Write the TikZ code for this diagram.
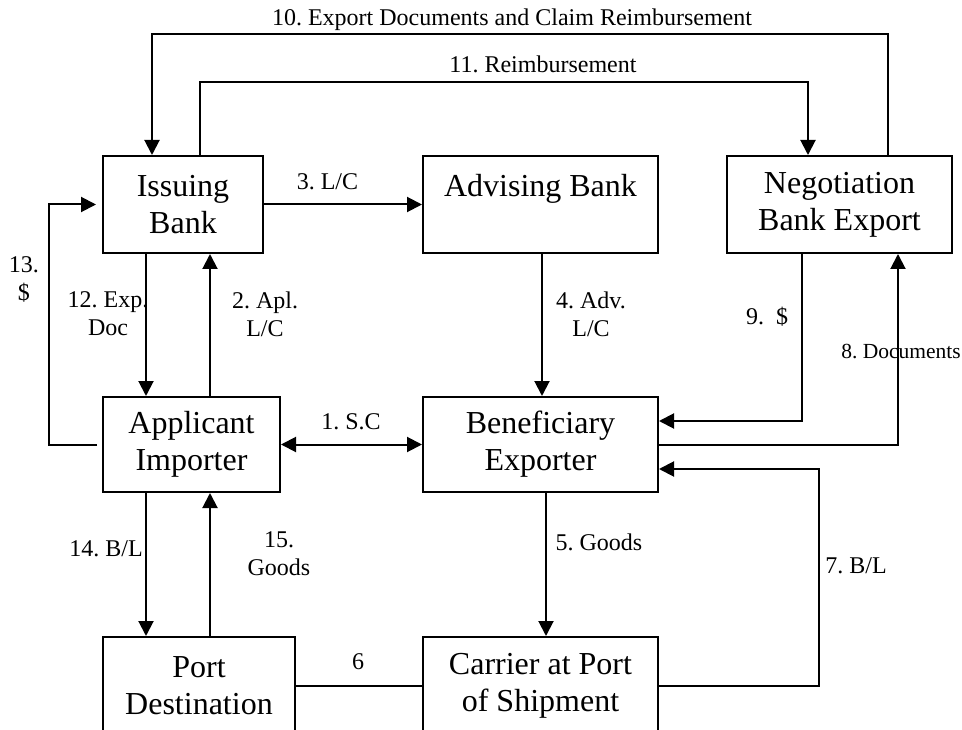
\documentclass[tikz,border=0pt]{standalone}
\usepackage{fontspec}
\setmainfont{Liberation Serif}
\usepackage{tikz}
\usetikzlibrary{arrows.meta}
\frenchspacing

\newcommand\boxfont{\fontsize{32}{37}\selectfont}
\newcommand\lblfont{\fontsize{24}{28}\selectfont}
\newcommand\docfont{\fontsize{21.5}{25}\selectfont}

\tikzset{
  party/.style={draw,line width=2pt,align=center,inner sep=0pt,font=\boxfont},
  flow/.style={font=\lblfont,align=center,inner sep=0pt}
}

\begin{document}
\begin{tikzpicture}[x=1pt,y=-1pt,line width=2pt,>={Triangle[length=15pt,width=15pt]}]
 \useasboundingbox (0,0) rectangle (962,730);
 \clip (0,0) rectangle (962,730);

 % Banks
 \node[party,minimum width=160pt,minimum height=97pt] (issuing) at (183,204.5) {Issuing\\Bank};
 \node[party,minimum width=235pt,minimum height=97pt] (advising) at (540.5,204.5) {Advising Bank\\\phantom{Bank}};
 \node[party,minimum width=225pt,minimum height=97pt] (negotiation) at (839.5,204.5) {Negotiation\\Bank Export};

 % Parties
 \node[party,minimum width=177pt,minimum height=95pt] (applicant) at (191.5,444.5) {Applicant\\Importer};
 \node[party,minimum width=235pt,minimum height=95pt] (beneficiary) at (540.5,444.5) {Beneficiary\\Exporter};

 % Ports
 \node[party,minimum width=192pt,minimum height=97pt] (port) at (199,685.5) {Port\\Destination};
 \node[party,minimum width=235pt,minimum height=97pt] (carrier) at (540.5,685.5) {Carrier at Port\\of Shipment};

 % Contract and credit
 \draw[<->] (applicant) -- (beneficiary);
 \draw[->] ([xshift=18.5pt]applicant.north) -- ([xshift=27pt]issuing.south);
 \draw[->] (issuing) -- (advising);
 \draw[->] ([xshift=1.5pt]advising.south) -- ([xshift=1.5pt]beneficiary.north);

 % Shipment
 \draw[->] ([xshift=5.5pt]beneficiary.south) -- ([xshift=5.5pt]carrier.north);
 \draw (port.east) -- (carrier.west);
 \draw[->] (carrier.east) -- ++(160,0) |- ([yshift=-24.5pt]beneficiary.east);

 % Negotiation
 \draw[->] (beneficiary.east) -| ([xshift=58.5pt]negotiation.south);
 \draw[->] ([xshift=-37.5pt]negotiation.south) |- ([yshift=23.5pt]beneficiary.east);

 % Top loops
 \draw[->] ([xshift=48.5pt]negotiation.north) -- ++(0,-121) -| ([xshift=-31pt]issuing.north);
 \draw[->] ([xshift=17pt]issuing.north) -- ++(0,-73) -| ([xshift=-31.5pt]negotiation.north);

 % Importer side
 \draw[->] ([xshift=-37pt]issuing.south) -- ([xshift=-45.5pt]applicant.north);
 \draw[->] ([xshift=-5pt]applicant.west) -- ++(-48,0) |- ([xshift=-6pt]issuing.west);
 \draw[->] ([xshift=-45.5pt]applicant.south) -- ([xshift=-53pt]port.north);
 \draw[->] ([xshift=11pt]port.north) -- ([xshift=18.5pt]applicant.south);

 % Labels
 \node[flow] (l1) at (351,422) {1. S.C};
 \node[flow] (l2) at (265,314) {2. Apl.\\L/C};
 \node[flow] (l3) at (327.5,182) {3. L/C};
 \node[flow] (l4) at (591,314) {4. Adv.\\L/C};
 \node[flow] (l5) at (599,542) {5. Goods};
 \node[flow] (l6) at (358,662) {6};
 \node[flow] (l7) at (856,566) {7. B/L};
 \node[flow,font=\docfont] (l8) at (901,352) {8. Documents};
 \node[flow] (l9) at (767,317) {9.\ \ \$};
 \node[flow] (l10) at (512,20) {10. Export Documents and Claim Reimbursement};
 \node[flow] (l11) at (543,64) {11. Reimbursement};
 \node[flow] (l12) at (108,314) {12. Exp.\\Doc};
 \node[flow] (l13) at (24,279) {13.\\\$};
 \node[flow] (l14) at (106,549) {14. B/L};
 \node[flow] (l15) at (279,554) {15.\\Goods};
\end{tikzpicture}
\end{document}
